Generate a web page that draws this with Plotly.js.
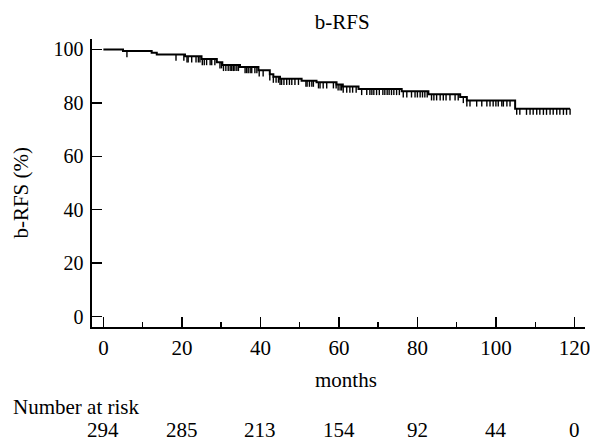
<!DOCTYPE html>
<html>
<head>
<meta charset="utf-8">
<script src="https://cdn.plot.ly/plotly-3.0.1.min.js"></script>
<style>
html,body{margin:0;padding:0;background:#fff;}
#chart{width:590px;height:441px;}
</style>
</head>
<body>
<div id="chart"></div>
<script>
// Kaplan-Meier step curve (months, b-RFS %)
var stepTimes = [0, 5.0, 12.3, 13.6, 20.8, 25.0, 28.9, 30.3, 34.8, 39.5, 42.4, 43.3, 45.0, 50.5, 54.3, 59.4, 61.0, 65.0, 76.0, 82.8, 90.9, 92.6, 104.9, 118.9];
var stepSurv  = [100, 99.4, 98.8, 98.1, 97.4, 96.4, 95.2, 94.2, 93.4, 92.2, 90.7, 89.8, 89.0, 88.3, 87.7, 86.9, 86.1, 85.2, 84.3, 83.2, 82.2, 80.9, 77.8, 77.8];

// Censored observations (months)
var censorTimes = [6.0, 18.5, 20.5, 21.3, 21.6, 22.5, 23.6, 24.2, 24.6, 25.2, 25.7, 26.3, 27.2, 27.6, 28.4,
  29.7, 30.1, 30.6, 31.2, 31.8, 32.3, 32.7, 33.1, 33.5, 34.0, 34.4, 36.1, 36.5, 36.9, 37.4, 37.8,
  38.6, 39.1, 39.7, 40.7, 42.4, 43.3, 44.0, 44.6, 45.0, 45.4, 46.0, 46.7, 47.4, 48.0, 48.8, 49.7,
  51.6, 51.9, 52.5, 53.1, 53.5, 54.8, 55.2, 56.0, 56.9, 58.6, 59.3, 59.8, 60.3, 60.7, 61.1, 62.0,
  62.8, 63.5, 64.4, 65.8, 67.1, 67.9, 68.4, 68.9, 69.6, 70.3, 71.2, 71.7, 72.3, 72.8, 73.4, 74.0,
  74.7, 75.4, 76.4, 77.3, 78.5, 79.4, 80.0, 80.7, 81.3, 81.9, 82.5, 83.6, 84.2, 84.9, 85.8, 86.6,
  87.3, 88.3, 89.6, 90.4, 91.7, 92.6, 93.4, 95.1, 96.4, 97.7, 98.5, 99.3, 100.0, 100.6, 101.5,
  101.9, 102.8, 103.6, 105.3, 106.1, 107.8, 108.7, 109.5, 110.4, 111.2, 112.1, 112.9, 113.8,
  114.6, 115.5, 116.3, 117.2, 118.0, 118.9];

// Number at risk table
var riskTimes  = [0, 20, 40, 60, 80, 100, 120];
var riskCounts = [294, 285, 213, 154, 92, 44, 0];
var xTickVals = [0, 20, 40, 60, 80, 100, 120];
var yTickVals = [0, 20, 40, 60, 80, 100];

function survAt(t) {
  var s = stepSurv[0];
  for (var i = 0; i < stepTimes.length; i++) {
    if (stepTimes[i] <= t) s = stepSurv[i]; else break;
  }
  return s;
}
var censorSurv = censorTimes.map(survAt);

var FONT = 'Liberation Serif';
var FS = 21;
var FT = 20;

var traces = [
  {
    x: stepTimes, y: stepSurv, type: 'scatter', mode: 'lines',
    line: {shape: 'hv', color: '#000', width: 2},
    hoverinfo: 'skip', showlegend: false
  },
  {
    x: censorTimes, y: censorSurv, type: 'scatter', mode: 'markers',
    marker: {size: 0.1, color: '#000'},
    error_y: {type: 'data', symmetric: false, array: censorTimes.map(function(){return 0;}),
              arrayminus: censorTimes.map(function(){return 2.3;}),
              width: 0, thickness: 1.4, color: '#000'},
    hoverinfo: 'skip', showlegend: false
  }
];

var annotations = [
  {text: 'months', xref: 'paper', yref: 'paper', x: 0.515, y: -0.184, xanchor: 'center', yanchor: 'middle',
   showarrow: false, font: {family: FONT, size: FS, color: '#000'}},
  {text: 'b-RFS (%)', xref: 'paper', yref: 'paper', x: -0.143, y: 0.465, xanchor: 'center', yanchor: 'middle',
   textangle: -90, showarrow: false, font: {family: FONT, size: FS, color: '#000'}},
  {text: 'Number at risk', xref: 'paper', yref: 'paper', x: -0.165, y: -0.278, xanchor: 'left', yanchor: 'middle',
   showarrow: false, font: {family: FONT, size: FS, color: '#000'}}
];
for (var i = 0; i < riskTimes.length; i++) {
  annotations.push({text: String(riskCounts[i]), xref: 'x', yref: 'paper', x: riskTimes[i], y: -0.358,
    xanchor: 'center', yanchor: 'middle', showarrow: false, font: {family: FONT, size: FS, color: '#000'}});
}

var layout = {
  width: 590, height: 441,
  margin: {l: 92, r: 5, t: 39, b: 114, pad: 0},
  paper_bgcolor: '#fff', plot_bgcolor: '#fff',
  font: {family: FONT, size: FS, color: '#000'},
  title: {text: 'b-RFS', x: 0.58, xref: 'container', xanchor: 'center', y: 0.952, yanchor: 'middle',
          font: {family: FONT, size: FS, color: '#000'}},
  showlegend: false,
  xaxis: {
    range: [-2.9, 122.7], tickvals: xTickVals, ticks: 'inside', ticklen: 10, tickwidth: 1.3, tickcolor: '#000',
    minor: {dtick: 10, tick0: 0, ticks: 'inside', ticklen: 5, tickwidth: 1.3, tickcolor: '#000'},
    showline: true, linecolor: '#000', linewidth: 1.6, showgrid: false, zeroline: false,
    tickfont: {family: FONT, size: FS, color: '#000'}, ticklabelstandoff: 1, ticklabeloverflow: 'allow'
  },
  yaxis: {
    range: [-3.9, 103.9], tickvals: yTickVals, ticks: 'inside', ticklen: 10, tickwidth: 1.3, tickcolor: '#000',
    showline: true, linecolor: '#000', linewidth: 1.6, showgrid: false, zeroline: false,
    tickfont: {family: FONT, size: FT, color: '#000'}, ticklabelstandoff: 3
  },
  annotations: annotations
};

Plotly.newPlot('chart', traces, layout, {staticPlot: true, displayModeBar: false});
</script>
</body>
</html>
